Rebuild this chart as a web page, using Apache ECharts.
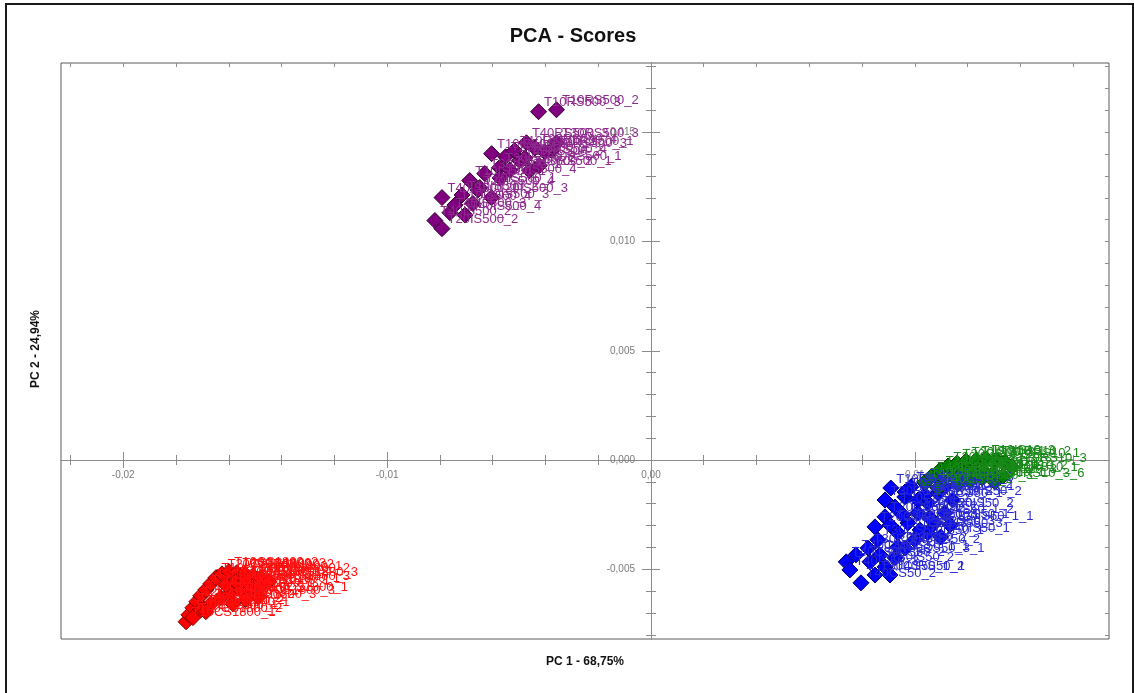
<!DOCTYPE html>
<html>
<head>
<meta charset="utf-8">
<script src="https://cdn.jsdelivr.net/npm/echarts@6/dist/echarts.min.js"></script>
<style>
html,body{margin:0;padding:0;background:#fff;}
#c{width:1134px;height:693px;}
</style>
</head>
<body>
<div id="c"></div>
<script>
// ---- axis ranges & ticks ----
const xMin = -0.02236, xMax = 0.01736;
const yMin = -0.00819, yMax = 0.01817;
const xMajorTicks = [-0.02, -0.01, 0, 0.01];
const xMinorTicks = [-0.022, -0.018, -0.016, -0.014, -0.012, -0.008, -0.006, -0.004, -0.002, 0.002, 0.004, 0.006, 0.008, 0.012, 0.014, 0.016];
const xTopTicks = [-0.022, -0.02, -0.018, -0.016, -0.014, -0.012, -0.01, -0.008, -0.006, -0.004, -0.002, 0, 0.002, 0.004, 0.006, 0.008, 0.01, 0.012, 0.014, 0.016];
const yMajorTicks = [-0.005, 0, 0.005, 0.010, 0.015];
const yMinorTicks = [-0.008, -0.007, -0.006, -0.004, -0.003, -0.002, -0.001, 0.001, 0.002, 0.003, 0.004, 0.006, 0.007, 0.008, 0.009, 0.011, 0.012, 0.013, 0.014, 0.016, 0.017, 0.018];
const yRightTicks = [-0.008, -0.007, -0.006, -0.005, -0.004, -0.003, -0.002, -0.001, 0, 0.001, 0.002, 0.003, 0.004, 0.005, 0.006, 0.007, 0.008, 0.009, 0.010, 0.011, 0.012, 0.013, 0.014, 0.015, 0.016, 0.017, 0.018];

// ---- scores: RS/IS 500 group (purple) ----
const purpleNames = ["T10RS500_3","T10RS500_2","T40RS500_3","T30RS500_3","T10IS500_3","T20RS500_2","T20RS500_1","T30RS500_1","T30IS500_2","T30IS500_1","T10IS500_1","T20IS500_3","T30IS500_3","T40IS500_1","T40IS500_3","T40IS500_2","T20IS500_2","T40RS500_2","T20IS500_1","T10RS500_1","T40RS500_1","T10IS500_2","T30RS500_2","T20RS500_3","T10IS500_4","T20IS500_4","T30IS500_4","T40RS500_4","T30RS500_4","T40IS500_4"];
const purpleX = [-0.00426,-0.00358,-0.00472,-0.00358,-0.00604,-0.00551,-0.00377,-0.00423,-0.00574,-0.00630,-0.00687,-0.00604,-0.00675,-0.00792,-0.00762,-0.00819,-0.00792,-0.00498,-0.00649,-0.00517,-0.00460,-0.00716,-0.00535,-0.00402,-0.00743,-0.00656,-0.00572,-0.00478,-0.00440,-0.00705];
const purpleY = [0.01594,0.01603,0.01452,0.01452,0.01402,0.01388,0.01416,0.01347,0.01338,0.01311,0.01279,0.01201,0.01174,0.01201,0.01132,0.01096,0.01059,0.01370,0.01247,0.01416,0.01324,0.01213,0.01327,0.01410,0.01167,0.01236,0.01291,0.01382,0.01428,0.01121];

// ---- 1800 group (red) ----
const redNames = ["T10CS1800_1","T40CS1800_1","T30CS1800_2","T20CS1800_3","T10CS1800_3","T20IS1800_1","T30IS1800_1","T10IS1800_3","T20CS1800_2","T10CS1800_2","T30CS1800_3","T20RS1800_2","T10RS1800_1","T10RS1800_2","T40IS1800_2","T30IS1800_2","T20IS1800_2","T10IS1800_1","T30CS1800_1","T20RS1800_1","T10RS1800_3","T20IS1800_3","T40IS1800_3","T10IS1800_2","T20RS1800_3","T30IS1800_3","T40CS1800_3","T20CS1800_1","T40CS1800_2","T40IS1800_1"];
const redX = [-0.01762,-0.01751,-0.01736,-0.01721,-0.01706,-0.01687,-0.01668,-0.01649,-0.01626,-0.01600,-0.01570,-0.01540,-0.01509,-0.01479,-0.01706,-0.01668,-0.01630,-0.01592,-0.01555,-0.01517,-0.01479,-0.01611,-0.01574,-0.01536,-0.01449,-0.01585,-0.01536,-0.01487,-0.01736,-0.01687];
const redY = [-0.00740,-0.00708,-0.00676,-0.00648,-0.00621,-0.00594,-0.00566,-0.00539,-0.00521,-0.00511,-0.00516,-0.00521,-0.00530,-0.00539,-0.00685,-0.00658,-0.00630,-0.00607,-0.00594,-0.00584,-0.00575,-0.00571,-0.00557,-0.00553,-0.00557,-0.00658,-0.00639,-0.00626,-0.00721,-0.00694];

// ---- 50 group (blue) ----
const blueNames = ["T40CS50_2","T40CS50_1","T40CS50_3","T30CS50_2","T30IS50_2","T30CS50_3_1","T30CS50_1","T20CS50_3","T20CS50_1","T20CS50_2","T10CS50_3","T10IS50_1","T30IS50_3","T20IS50_3","T20IS50_1","T10CS50_1","T10CS50_2","T30IS50_1","T20RS50_3","T40IS50_1","T40IS50_2","T30RS50_1","T10RS50_3","T10IS50_3","T20IS50_2","T20RS50_1","T10RS50_1","T10IS50_2","T40IS50_3","T30RS50_2","T40RS50_1","T40RS50_2","T40RS50_3","T30RS50_3","T20RS50_2","T10RS50_2","T10IS50_1_2","T30CS50_1_2","T20CS50_1_2","T10CS50_3_1","T20IS50_1_1","T40CS50_1_1"];
const blueX = [0.00796,0.00740,0.00777,0.00830,0.00887,0.00925,0.00860,0.00849,0.00887,0.00925,0.00962,0.00985,0.00936,0.00974,0.01011,0.01049,0.01087,0.01000,0.01049,0.01098,0.00936,0.00887,0.01038,0.01113,0.01113,0.01075,0.00909,0.01143,0.00754,0.00823,0.00906,0.00963,0.01020,0.00906,0.00955,0.01012,0.01058,0.00849,0.00963,0.01039,0.01133,0.00868];
const blueY = [-0.00562,-0.00466,-0.00434,-0.00466,-0.00489,-0.00447,-0.00365,-0.00306,-0.00260,-0.00215,-0.00169,-0.00123,-0.00333,-0.00288,-0.00242,-0.00196,-0.00151,-0.00365,-0.00333,-0.00352,-0.00397,-0.00183,-0.00105,-0.00123,-0.00242,-0.00288,-0.00128,-0.00183,-0.00503,-0.00403,-0.00526,-0.00403,-0.00320,-0.00297,-0.00252,-0.00183,-0.00265,-0.00526,-0.00146,-0.00160,-0.00297,-0.00435];

// ---- 10 group (green) ----
const greenNames = ["T40CS10_1","T40IS10_2","T30CS10_3","T30IS10_1","T20CS10_2","T20IS10_3","T10IS10_1","T10IS10_3","T10RS10_2","T10RS10_1","T10RS10_3","T30CS10_2","T30IS10_3","T20CS10_1","T20IS10_2","T10IS10_2","T20RS10_2","T40CS10_3","T30RS10_1","T20RS10_3","T30RS10_3_6","T20RS10_1","T40CS10_2"];
const greenX = [0.01039,0.01065,0.01096,0.01126,0.01160,0.01194,0.01232,0.01270,0.01308,0.01342,0.01368,0.01107,0.01145,0.01183,0.01221,0.01259,0.01296,0.01164,0.01209,0.01255,0.01304,0.01334,0.01088];
const greenY = [-0.00101,-0.00073,-0.00046,-0.00027,-0.00014,-0.00005,0.00000,0.00005,0.00000,-0.00009,-0.00032,-0.00092,-0.00073,-0.00059,-0.00050,-0.00050,-0.00064,-0.00110,-0.00096,-0.00082,-0.00101,-0.00073,-0.00128];

const axisGray = '#8c8c8c';
const fmtX = v => v.toFixed(2).replace('.', ',');
const fmtY = v => v.toFixed(3).replace('.', ',');
// zero lines sit inside the frame: offsets move the axes from the frame edge to value 0
const X_ZERO_OFFSET = -179;
const Y_ZERO_OFFSET = -590;

function xAx(o) {
  return Object.assign({
    type: 'value', min: xMin, max: xMax, splitLine: {show: false},
    position: 'bottom', offset: X_ZERO_OFFSET,
    axisLine: {show: true, onZero: false, lineStyle: {color: axisGray, width: 1}},
    axisLabel: {show: false}, axisTick: {show: false}
  }, o);
}
function yAx(o) {
  return Object.assign({
    type: 'value', min: yMin, max: yMax, splitLine: {show: false},
    position: 'left', offset: Y_ZERO_OFFSET,
    axisLine: {show: true, onZero: false, lineStyle: {color: axisGray, width: 1}},
    axisLabel: {show: false}, axisTick: {show: false}
  }, o);
}
const tick = (vals, len, inside) => ({show: true, customValues: vals, length: len, inside: inside, lineStyle: {color: axisGray, width: 1}});

const xAxes = [
  xAx({axisTick: tick(xMajorTicks, 8, false),
       axisLabel: {show: true, customValues: xMajorTicks, formatter: fmtX, margin: 10, color: '#7a7a7a', fontSize: 10, fontFamily: 'Liberation Sans, Arial'}}),
  xAx({axisTick: tick(xMajorTicks, 8, true)}),
  xAx({axisTick: tick(xMinorTicks, 5, false)}),
  xAx({axisTick: tick(xMinorTicks, 5, true)}),
  xAx({position: 'top', offset: 0, axisLine: {show: false, onZero: false}, axisTick: tick(xTopTicks, 4, true)})
];
const yAxes = [
  yAx({axisTick: tick(yMajorTicks, 9, false),
       axisLabel: {show: true, customValues: yMajorTicks, formatter: fmtY, margin: 16, color: '#7a7a7a', fontSize: 10, fontFamily: 'Liberation Sans, Arial'}}),
  yAx({axisTick: tick(yMajorTicks, 9, true)}),
  yAx({axisTick: tick(yMinorTicks, 5, false)}),
  yAx({axisTick: tick(yMinorTicks, 5, true)}),
  yAx({position: 'right', offset: 0, axisLine: {show: false, onZero: false}, axisTick: tick(yRightTicks, 4, true)})
];

function mk(names, xs, ys, fill, border, labelColor) {
  return {
    type: 'scatter', xAxisIndex: 0, yAxisIndex: 0,
    symbol: 'diamond', symbolSize: 16,
    itemStyle: {color: fill, borderColor: border, borderWidth: 1, opacity: 1},
    label: {show: true, formatter: '{b}', position: [14, 6], align: 'left', verticalAlign: 'bottom',
            color: labelColor, fontSize: 13, fontFamily: 'Liberation Sans, Arial'},
    emphasis: {disabled: true},
    data: names.map((n, i) => ({name: n, value: [xs[i], ys[i]]}))
  };
}

const chart = echarts.init(document.getElementById('c'), null, {renderer: 'canvas'});
chart.setOption({
  animation: false,
  backgroundColor: '#ffffff',
  grid: {left: 61, right: 25, top: 63, bottom: 54, show: true, borderColor: '#5a5a5a', borderWidth: 1, backgroundColor: 'transparent'},
  xAxis: xAxes,
  yAxis: yAxes,
  graphic: [
    {type: 'rect', silent: true, shape: {x: 6, y: 4, width: 1127, height: 720}, style: {fill: 'none', stroke: '#1a1a1a', lineWidth: 2}},
    {type: 'text', silent: true, x: 573, y: 36, style: {text: 'PCA - Scores', font: 'bold 20px "Liberation Sans", Arial', fill: '#111', textAlign: 'center', textVerticalAlign: 'middle'}},
    {type: 'text', silent: true, x: 585, y: 662, style: {text: 'PC 1 - 68,75%', font: 'bold 12px "Liberation Sans", Arial', fill: '#111', textAlign: 'center', textVerticalAlign: 'middle'}},
    {type: 'text', silent: true, x: 36, y: 349, rotation: Math.PI / 2, style: {text: 'PC 2 - 24,94%', font: 'bold 12px "Liberation Sans", Arial', fill: '#111', textAlign: 'center', textVerticalAlign: 'middle'}}
  ],
  series: [
    mk(purpleNames, purpleX, purpleY, '#800080', '#2e002e', '#8e2a8e'),
    mk(redNames, redX, redY, '#ff0000', '#7a0000', '#ff1010'),
    mk(blueNames, blueX, blueY, '#0000ff', '#00006a', '#2a2ad0'),
    mk(greenNames, greenX, greenY, '#008000', '#003000', '#1a8a1a')
  ]
});
</script>
</body>
</html>
